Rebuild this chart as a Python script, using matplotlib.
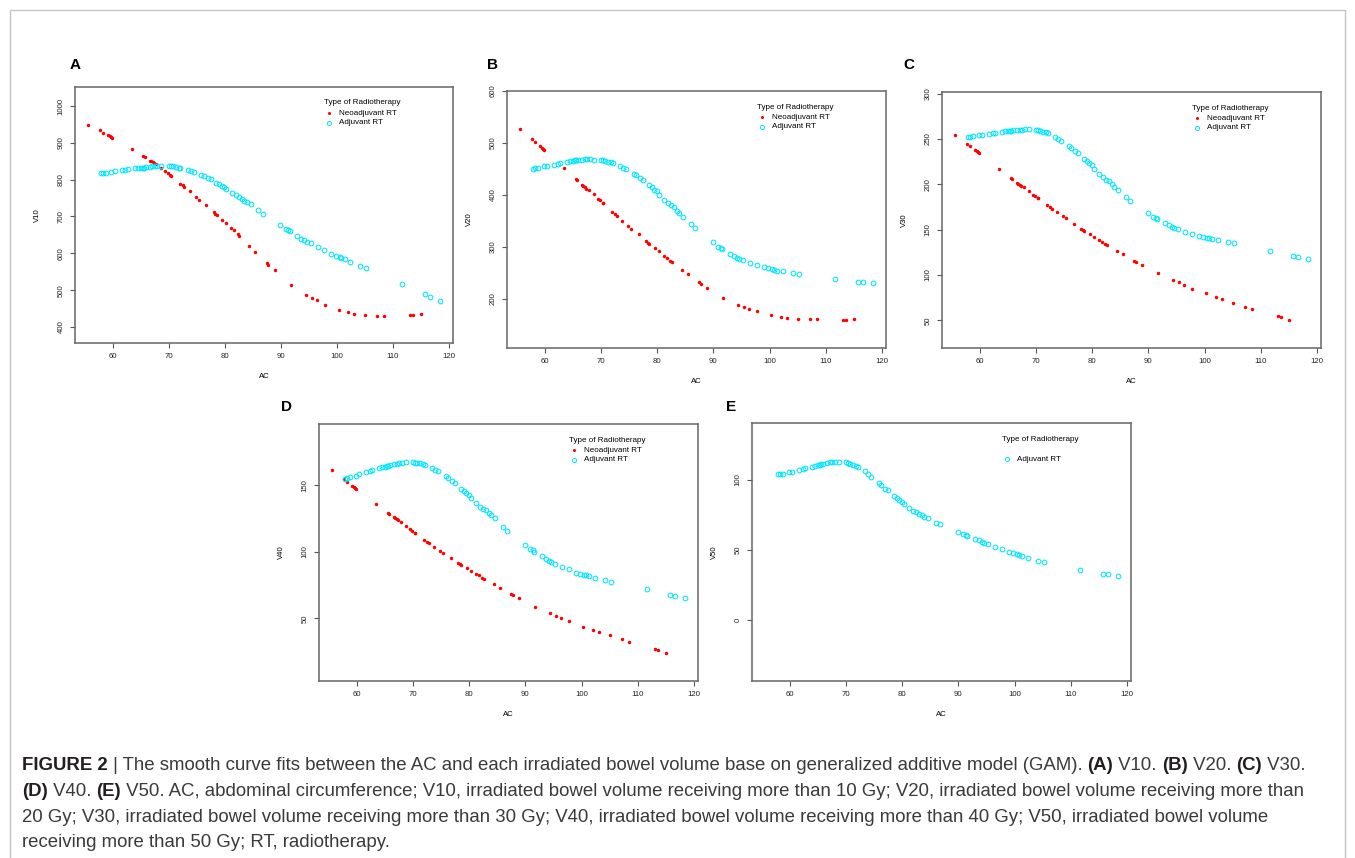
# GAM smooth fits: AC vs irradiated bowel volume (V10..V50)
import matplotlib
matplotlib.use("Agg")
import matplotlib.pyplot as plt
from matplotlib.patches import Rectangle

# AC values of the fitted points
neo_ac = [55.7, 57.7, 58.3, 59.2, 59.5, 59.7, 59.9, 63.5, 65.5, 65.7,
          66.6, 66.9, 67.2, 67.4, 67.8, 68.7, 69.4, 69.8, 70.3, 70.4,
          72.0, 72.5, 72.8, 73.8, 74.8, 75.4, 76.7, 78.0, 78.3, 78.6,
          79.6, 80.3, 81.2, 81.7, 82.3, 82.6, 84.4, 85.4, 87.5, 87.8,
          88.9, 91.8, 94.4, 95.5, 96.4, 97.8, 100.3, 102.0, 103.1, 105.0,
          107.2, 108.4, 113.0, 113.5, 115.0]
adj_ac = [57.9, 58.3, 58.9, 59.8, 60.5, 61.7, 62.3, 62.8, 64.0, 64.5,
          65.0, 65.4, 65.6, 66.0, 66.6, 67.1, 67.5, 68.0, 68.7, 70.0,
          70.4, 70.8, 71.3, 71.8, 72.1, 73.4, 74.0, 74.5, 75.8, 76.3,
          77.0, 77.5, 78.5, 79.0, 79.5, 79.9, 80.3, 81.3, 82.0, 82.5,
          83.0, 83.5, 83.9, 84.6, 86.0, 86.8, 89.9, 90.9, 91.3, 91.6,
          92.9, 93.6, 94.2, 94.6, 95.3, 96.6, 97.7, 99.0, 99.8, 100.5,
          100.8, 101.4, 102.4, 104.2, 105.2, 111.6, 115.7, 116.6, 118.3]

# Neoadjuvant RT fitted values
v10_neo = [949, 934, 927.5, 920, 917.5, 915, 913, 882, 864, 862,
           852, 849.6, 847, 844, 841.5, 831.5, 822.5, 819, 813, 811,
           789, 784.6, 780, 768, 753.6, 746, 730, 712, 708, 704,
           691, 682, 668, 662, 652, 647.6, 618.6, 604, 574, 569.6,
           553.4, 515, 488, 479, 472, 461, 447, 440, 436.5, 433,
           431, 430, 432, 432, 434]
v20_neo = [527, 507, 501, 493.6, 491, 488, 486, 451, 431, 429.5,
           420, 417, 415, 412, 409, 401, 392, 390, 385, 384,
           367, 363, 359.6, 350.6, 340, 335, 324, 312, 308, 306,
           298, 291.7, 283, 279.5, 273.7, 270.5, 256.4, 248, 232, 229.5,
           221, 202.6, 189, 184, 180.8, 176, 170, 166, 164, 162,
           161, 161, 160, 160, 161]
v30_neo = [254.8, 244.9, 242.3, 237.9, 236.8, 235.3, 234.6, 216.9, 207, 206.3,
           201.9, 200.7, 199.6, 198.2, 196.7, 193, 188.6, 186.8, 185.3, 184.6,
           176.9, 175, 173.2, 169.1, 164.7, 162.5, 156.6, 150.7, 149.3, 148.2,
           144.9, 142.3, 138.6, 136.8, 133.8, 133.1, 126.1, 122.8, 115, 114.7,
           111, 101.9, 94.1, 91.9, 89.4, 84.9, 79.8, 75.8, 73.2, 69.5,
           65.1, 62.9, 54.4, 53.3, 50.8]
v40_neo = [161.25, 155, 152.75, 149.75, 149, 148.25, 147.5, 136, 129.5, 128.75,
           126, 125.25, 124.5, 123.75, 122.5, 119.5, 117, 115.75, 114.5, 114,
           108.75, 107.75, 106.5, 104, 100.5, 99.25, 95.5, 91.25, 90.5, 89.75,
           87.5, 85.75, 83.5, 82.25, 80.5, 79.5, 75.5, 73, 68.25, 67.75,
           65, 58.75, 53.75, 51.75, 50.25, 48, 43.75, 41.5, 39.5, 37.25,
           34.25, 32.5, 27, 26, 24.25]

# Adjuvant RT fitted values
v10_adj = [817, 818, 819, 820.6, 822.4, 825, 826, 828, 830.6, 831.5,
           832.4, 833, 833, 834, 835, 836, 836, 837, 837, 837,
           836, 836, 834, 833, 832, 827, 823, 820.6, 811.6, 809,
           803.4, 800.7, 791.6, 787, 782.6, 779, 775, 763.5, 757, 752,
           747, 742.7, 739, 733, 717.3, 708, 676.5, 666.6, 664, 660,
           647.6, 640, 635, 631, 627, 617, 608.6, 598.6, 593, 589.6,
           587, 583.3, 577, 566, 559, 516, 489, 482, 471]
v20_adj = [450.6, 452, 452.6, 455, 455.7, 458, 459.6, 461, 464, 465.4,
           466, 466.7, 467, 467.5, 468, 468.3, 468.6, 468.6, 468, 467.3,
           466.7, 466, 464, 462.8, 461.5, 455.8, 452.6, 450, 440.4, 437.8,
           432.7, 428.9, 418.6, 414.7, 410, 407, 400.6, 390.4, 384, 380,
           376.3, 369, 364.7, 357.7, 343.6, 336, 309, 300, 298.7, 296,
           287.2, 283.3, 279.5, 277, 274.4, 269, 265.4, 261, 259, 257,
           256.4, 254.5, 253, 250, 248, 238, 233.3, 232, 230.8]
v30_adj = [251.8, 252.6, 253.3, 254, 254.4, 255.5, 256.3, 256.6, 257.7, 258.5,
           258.8, 259.2, 259.2, 259.6, 260, 260.3, 260.3, 260.7, 260.7, 260.3,
           259.6, 259.2, 258.1, 257.4, 256.3, 252.2, 250, 247.8, 242.3, 240.1,
           236.4, 234.6, 228, 225.7, 223.5, 221.3, 217.3, 211.8, 207.7, 205.2,
           203.3, 200, 197.4, 193.8, 186, 181.6, 168.4, 164.4, 163.3, 161.8,
           157, 155.2, 153.3, 152.2, 150.4, 147.8, 145.6, 143, 141.9, 141.2,
           140.8, 140.1, 138.6, 136, 135.3, 126.5, 121, 119.5, 117.3]
v40_adj = [155, 155.25, 156, 157.25, 158.25, 160, 160.75, 161.5, 162.75, 163.5,
           164, 164.5, 164.75, 165.25, 165.75, 166.25, 166.5, 166.75, 167.25, 167.25,
           167, 166.75, 166.5, 166, 165.5, 163.25, 161.75, 160.75, 156.75, 155.75,
           153.25, 151.75, 147.25, 146, 144.25, 142.75, 140.25, 136.5, 134, 132.5,
           131.25, 129.25, 127.75, 125.75, 119, 115.5, 105.5, 102.5, 101.5, 100.25,
           96.5, 94.75, 93.25, 92, 91, 88.25, 86.75, 84.25, 83.5, 82.75,
           82.25, 81.75, 80.5, 78.5, 77.5, 71.75, 67.5, 66.75, 65.5]
v50_adj = [104, 104.3, 104.5, 105.7, 106, 107.4, 107.9, 108.3, 109.5, 110,
           110.5, 111, 111.2, 111.4, 112.1, 112.6, 112.9, 113.1, 113.1, 112.9,
           112.4, 111.7, 111, 110.2, 109.3, 106.2, 104.3, 102.4, 98.1, 96.7,
           93.8, 92.9, 88.8, 87.4, 86, 84.5, 82.9, 79.8, 78.1, 76.9,
           76, 74.8, 73.8, 72.6, 69.5, 68.3, 63.1, 61.2, 60.7, 60.3,
           57.6, 56.9, 55.7, 55, 54.1, 52.4, 50.5, 48.4, 47.6, 46.9,
           46.4, 45.7, 44.1, 42.2, 41.2, 35.5, 33.1, 32.6, 31.2]

x_ticks = [60, 70, 80, 90, 100, 110, 120]

W, H = 1355, 858
fig = plt.figure(figsize=(W / 100, H / 100), dpi=100)
plt.rcParams['font.family'] = ['Liberation Sans', 'DejaVu Sans']

def box(l, t, r, b):
    return [l / W, 1 - b / H, (r - l) / W, (b - t) / H]

panels = [
    ("A", "V10", v10_neo, v10_adj, (356.5, 1051.6), range(400, 1001, 100), box(75, 87, 453, 343), (75, 65)),
    ("B", "V20", v20_neo, v20_adj, (105.6, 600), range(200, 601, 100), box(507, 91, 886, 348), (492, 65)),
    ("C", "V30", v30_neo, v30_adj, (19.5, 301.8), range(50, 301, 50), box(942, 92, 1321, 348), (909, 65)),
    ("D", "V40", v40_neo, v40_adj, (3, 196), [50, 100, 150], box(319, 424, 698, 681), (286, 407)),
    ("E", "V50", None, v50_adj, (-43.6, 140.7), [0, 50, 100], box(752, 423, 1131, 681), (731, 407)),
]

for letter, ylab, neo, adj, ylim, yticks, pos, lpos in panels:
    ax = fig.add_axes(pos)
    if neo is not None:
        ax.plot(neo_ac, neo, linestyle='none', marker='o', markersize=2.5,
                color='#ff0000', markeredgewidth=0)
    ax.plot(adj_ac, adj, linestyle='none', marker='o', markersize=3.4,
            markerfacecolor='none', markeredgecolor='#00e5ff', markeredgewidth=0.75)
    ax.set_xlim(53.3, 120.7)
    ax.set_ylim(*ylim)
    ax.set_xticks(x_ticks)
    ax.set_yticks(list(yticks))
    ax.tick_params(direction='out', length=3.5, width=0.8, labelsize=5.6,
                   colors='#555555', labelcolor='#222222', pad=4)
    for lab in ax.get_yticklabels():
        lab.set_rotation(90)
        lab.set_va('center')
    for sp in ax.spines.values():
        sp.set_color('#666666')
        sp.set_linewidth(1.1)
    ax.set_xlabel("AC", fontsize=5.6, labelpad=9)
    ax.set_ylabel(ylab, fontsize=5.6, labelpad=12)

    # legend, drawn like R's legend(bty="n")
    ax.text(0.659, 0.9375, "Type of Radiotherapy", transform=ax.transAxes,
            fontsize=5.8, va='center', ha='left')
    if neo is not None:
        ax.plot([0.672], [0.897], transform=ax.transAxes, marker='o', markersize=2.2,
                color='#ff0000', markeredgewidth=0, clip_on=False)
        ax.text(0.698, 0.897, "Neoadjuvant RT", transform=ax.transAxes,
                fontsize=5.8, va='center', ha='left')
    ax.plot([0.672], [0.860], transform=ax.transAxes, marker='o', markersize=3.0,
            markerfacecolor='none', markeredgecolor='#00e5ff', markeredgewidth=0.7,
            clip_on=False)
    ax.text(0.698, 0.860, "Adjuvant RT", transform=ax.transAxes,
            fontsize=5.8, va='center', ha='left')

    fig.text(lpos[0] / W, 1 - lpos[1] / H, letter, fontsize=11, fontweight='bold',
             ha='center', va='center')

# outer frame
fig.add_artist(Rectangle((10 / W, -0.05), 1335 / W, 1 - 10 / H + 0.05,
                         transform=fig.transFigure, fill=False,
                         edgecolor='#c4c4c4', linewidth=1))

# caption with bold segments
caption = [
    [("FIGURE 2", True), (" | The smooth curve fits between the AC and each irradiated bowel volume base on generalized additive model (GAM). ", False),
     ("(A)", True), (" V10. ", False), ("(B)", True), (" V20. ", False), ("(C)", True), (" V30.", False)],
    [("(D)", True), (" V40. ", False), ("(E)", True),
     (" V50. AC, abdominal circumference; V10, irradiated bowel volume receiving more than 10 Gy; V20, irradiated bowel volume receiving more than", False)],
    [("20 Gy; V30, irradiated bowel volume receiving more than 30 Gy; V40, irradiated bowel volume receiving more than 40 Gy; V50, irradiated bowel volume", False)],
    [("receiving more than 50 Gy; RT, radiotherapy.", False)],
]
renderer = fig.canvas.get_renderer()
for i, line in enumerate(caption):
    x = 22
    y = 766 + 25.5 * i
    for txt, bold in line:
        t = fig.text(x / W, 1 - y / H, txt, family=['Liberation Sans', 'DejaVu Sans'],
                     fontsize=13.4, fontweight='bold' if bold else 'normal',
                     color='#231f20' if bold else '#3a3a3a',
                     ha='left', va='center')
        x += t.get_window_extent(renderer).width

fig.savefig("out.png", dpi=100)
